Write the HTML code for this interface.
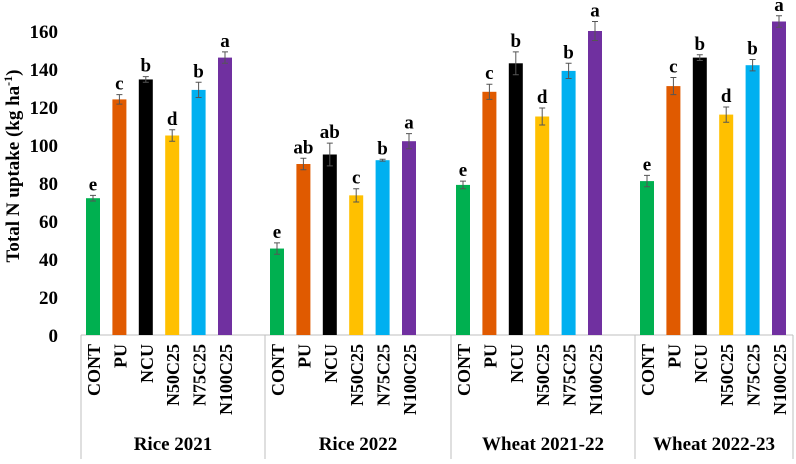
<!DOCTYPE html>
<html><head><meta charset="utf-8"><style>
html,body{margin:0;padding:0;background:#fff;}
svg text{font-family:"Liberation Serif",serif;font-weight:bold;fill:#000;}
</style></head><body>
<svg id="chart" width="796" height="459" xmlns="http://www.w3.org/2000/svg"></svg>
<script>
const groups = ["Rice 2021","Rice 2022","Wheat 2021-22","Wheat 2022-23"];
const treatments = ["CONT","PU","NCU","N50C25","N75C25","N100C25"];
const colors = ["#00b050","#e05a00","#000000","#ffc000","#00b0f0","#7030a0"];
const valRice21 = [72,124,134.5,105,129,146];
const valRice22 = [45.5,90,95,73.5,92,102];
const valWheat21 = [79,128,143,115,139,160];
const valWheat22 = [81,131,146,116,142,165];
const errRice21 = [1.5,2.5,1.5,3,4,3];
const errRice22 = [3,3,6,3.5,0.5,4];
const errWheat21 = [2,4,6,4.5,4,5];
const errWheat22 = [3,4.5,1.5,4,3,3];
const letRice21 = ["e","c","b","d","b","a"];
const letRice22 = ["e","ab","ab","c","b","a"];
const letWheat21 = ["e","c","b","d","b","a"];
const letWheat22 = ["e","c","b","d","b","a"];
const yTicks = [0,20,40,60,80,100,120,140,160];

const values=[valRice21,valRice22,valWheat21,valWheat22];
const errs=[errRice21,errRice22,errWheat21,errWheat22];
const lets=[letRice21,letRice22,letWheat21,letWheat22];
const svg=document.getElementById('chart');
const NS="http://www.w3.org/2000/svg";
const y0=335, yTop=31, yMax=160;
const y=v=>y0-(v/yMax)*(y0-yTop);
const gStart=[81,265,451,635], gEnd=[265,451,635,793];
const x=(g,i)=>gStart[g]+12+i*26.4;
function mk(tag,attrs,parent){const e=document.createElementNS(NS,tag);for(const k in attrs)e.setAttribute(k,attrs[k]);(parent||svg).appendChild(e);return e;}

yTicks.forEach(t=>{
  const tx=mk('text',{x:58,y:y(t)+7,'text-anchor':'end','font-size':19});
  
  
  tx.textContent=t;
});
const yt=mk('text',{x:0,y:0,'text-anchor':'middle','font-size':19,transform:'translate(19,166) rotate(-90)'});


yt.innerHTML='Total N uptake (kg ha<tspan dy="-7" font-size="12">-1</tspan><tspan dy="7">)</tspan>';

const ax=mk('line',{x1:81,y1:y0,x2:793,y2:y0,stroke:'#bfbfbf','stroke-width':1});


[81,265,451,635,793].forEach(sx=>{
  const l=mk('line',{x1:sx,y1:y0,x2:sx,y2:459,stroke:'#bfbfbf','stroke-width':1});
  
  
});

groups.forEach((gname,g)=>{
  treatments.forEach((tname,i)=>{
    const cx=x(g,i), v=values[g][i], e=errs[g][i];
    const r=mk('rect',{x:cx-7,y:y(v),width:14,height:y0-y(v),fill:colors[i]});
    
    
    const eb=mk('path',{d:`M${cx},${y(v+e)}V${y(v-e)}M${cx-3},${y(v+e)}H${cx+3}M${cx-3},${y(v-e)}H${cx+3}`,stroke:'#555','stroke-width':1,fill:'none'});
    
    
    const lt=mk('text',{x:cx,y:y(v+e)-5,'text-anchor':'middle','font-size':19});
    
    
    lt.textContent=lets[g][i];
    const cl=mk('text',{x:0,y:0,'text-anchor':'end','font-size':18,transform:`translate(${cx+7},344) rotate(-90)`});
    
    
    cl.textContent=tname;
  });
  const gl=mk('text',{x:(gStart[g]+gEnd[g])/2,y:450,'text-anchor':'middle','font-size':19});
  
  
  gl.textContent=gname;
});
</script>
</body></html>
